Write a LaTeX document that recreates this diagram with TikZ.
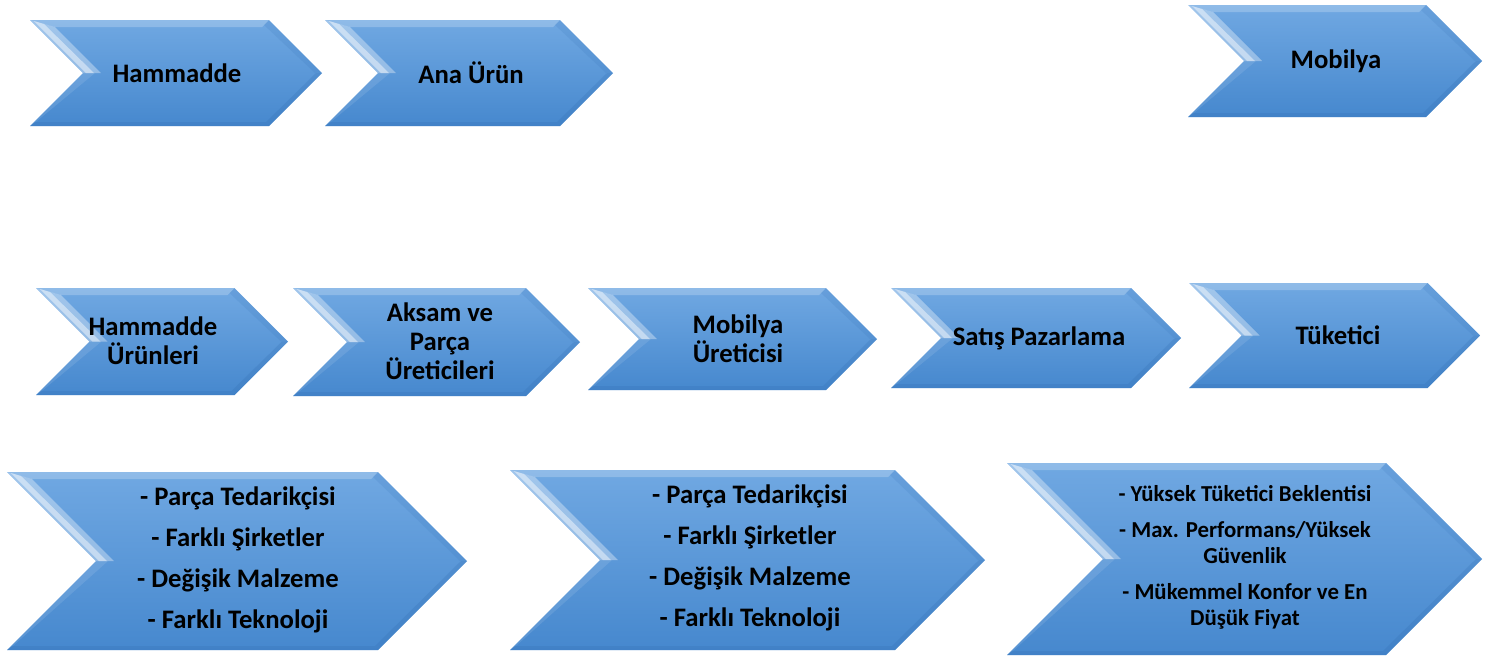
\documentclass[tikz,border=0pt]{standalone}
\usepackage{fontspec}
\setmainfont{Carlito}
\usetikzlibrary{positioning}
\definecolor{chevtop}{RGB}{112,168,226}
\definecolor{chevbot}{RGB}{70,136,206}
\definecolor{chevdark}{RGB}{52,112,180}

\tikzset{
  chevlabel/.style={font=\bfseries\fontsize{15.2}{16.5}\selectfont, align=center, text=black, inner sep=0pt},
  chevlist/.style={font=\bfseries\fontsize{15.2}{23.3}\selectfont, align=center, text=black, inner sep=0pt},
  chevsmall/.style={font=\bfseries\fontsize{13}{14.8}\selectfont, align=center, text=black, inner sep=0pt}
}

% chevron from left, top, right, bottom (pixel units, y downwards)
\newcommand{\chevshape}[4]{%
  \pgfmathsetmacro{\cd}{(#4-#2)/2}
  \pgfmathsetmacro{\cm}{(#2+#4)/2}
  \shade[top color=chevtop, bottom color=chevbot]
    (#1,#2) -- ({#3-\cd},#2) -- (#3,\cm) -- ({#3-\cd},#4) -- (#1,#4) -- ({#1+\cd},\cm) -- cycle;
  % light bevel on the notch and the top edge
  \fill[white, opacity=0.35] (#1,#2) -- ({#1+\cd},\cm) -- ({#1+\cd+18},\cm) -- ({#1+25},{#2+7}) -- cycle;
  \fill[white, opacity=0.45] ({#1+4},{#2+1}) -- ({#1+\cd+3},\cm) -- ({#1+\cd+11},\cm) -- ({#1+14},{#2+4}) -- cycle;
  \fill[white, opacity=0.22] (#1,#2) -- ({#1+25},{#2+7}) -- ({#3-\cd-7},{#2+7}) -- ({#3-\cd},#2) -- cycle;
  \fill[white, opacity=0.1] ({#1+\cd},\cm) -- (#1,#4) -- ({#1+7},{#4-5}) -- ({#1+\cd+12},\cm) -- cycle;
  % darker bevel on the right and the bottom
  \fill[chevdark, opacity=0.15] ({#3-\cd},#2) -- (#3,\cm) -- ({#3-7},\cm) -- ({#3-\cd-5},{#2+5}) -- cycle;
  \fill[chevdark, opacity=0.25] (#3,\cm) -- ({#3-\cd},#4) -- (#1,#4) -- ({#1+5},{#4-4}) -- ({#3-\cd-3},{#4-4}) -- ({#3-6},\cm) -- cycle;
}

\begin{document}
\begin{tikzpicture}[x=0.02cm, y=-0.02cm]
  \useasboundingbox (0,0) rectangle (1501,657);

  % upper row
  \chevshape{30}{20}{322}{126}
  \chevshape{325}{20}{613}{126}
  \chevshape{1188}{5}{1482}{117}
  \node[chevlabel] (hammadde) at (177,73) {Hammadde};
  \node[chevlabel] (anaurun) at (471,73) {Ana Ürün};
  \node[chevlabel] (mobilya) at (1336,61) {Mobilya};

  % middle row
  \chevshape{36}{288}{288}{395}
  \chevshape{293}{288}{580}{396}
  \chevshape{588}{288}{877}{390}
  \chevshape{891}{288}{1181}{388}
  \chevshape{1189}{283}{1480}{388}
  \node[chevlabel] (hamurun) at (153,341) {Hammadde\\Ürünleri};
  \node[chevlabel] (aksam) at (440,341) {Aksam ve\\Parça\\Üreticileri};
  \node[chevlabel] (uretici) at (738,339) {Mobilya\\Üreticisi};
  \node[chevlabel] (satis) at (1039,338) {Satış Pazarlama};
  \node[chevlabel] (tuketici) at (1338,335) {Tüketici};

  % lower row
  \chevshape{7}{472}{467}{650}
  \chevshape{510}{470}{985}{650}
  \chevshape{1007}{463}{1482}{655}
  \node[chevlist] (tedarik1) at (238,560)
    {- Parça Tedarikçisi\\- Farklı Şirketler\\- Değişik Malzeme\\- Farklı Teknoloji};
  \node[chevlist] (tedarik2) at (750,558)
    {- Parça Tedarikçisi\\- Farklı Şirketler\\- Değişik Malzeme\\- Farklı Teknoloji};
  \node[chevsmall] (beklenti) at (1245,557)
    {- Yüksek Tüketici Beklentisi\\[5.7pt]- Max. Performans/Yüksek\\Güvenlik\\[5.7pt]- Mükemmel Konfor ve En\\Düşük Fiyat};
\end{tikzpicture}
\end{document}
